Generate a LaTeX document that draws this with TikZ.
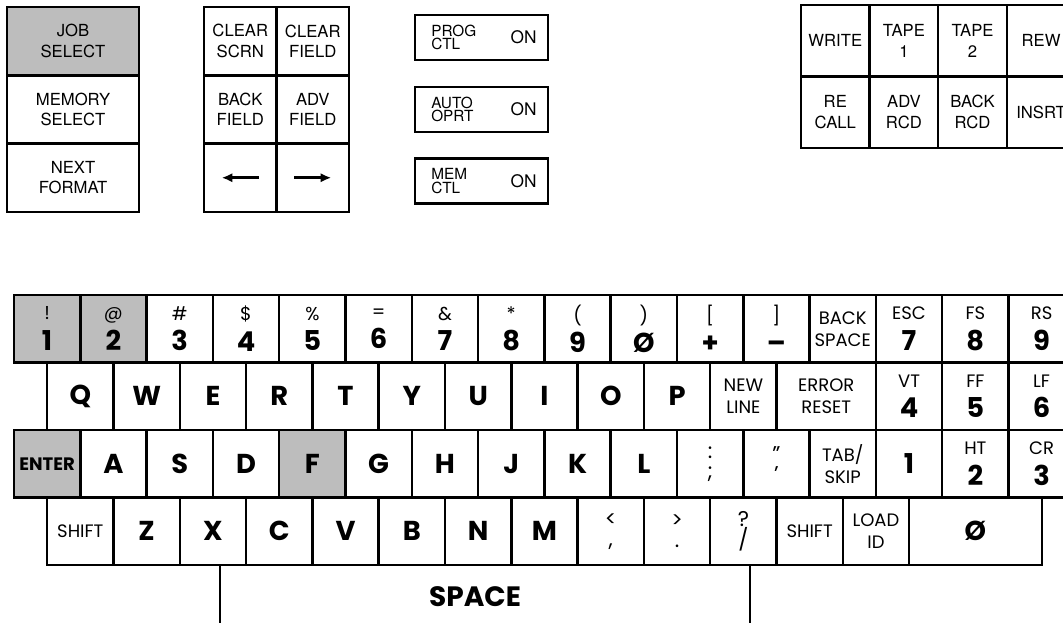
\documentclass[tikz,border=0pt]{standalone}
\usepackage{fontspec}
\setmainfont{TeX Gyre Heros}
\newfontfamily\keyfont{Poppins}
\usetikzlibrary{arrows.meta}

\tikzset{
  keyline/.style={line width=1.8pt},
  keybox/.style={draw, keyline, anchor=north west, inner sep=0pt, outer sep=0pt, align=center},
  panel/.style={keybox, font=\fontsize{12.5}{15.5}\selectfont},
  dotfill/.style={fill=black!26},
  nofill/.style={},
  keycap/.style={keybox, minimum width=49.7pt, minimum height=50.6pt},
  lettkey/.style={keycap, font=\keyfont\bfseries\fontsize{20.5}{23}\selectfont},
  wordkey/.style={keycap, font=\keyfont\fontsize{13.5}{16.5}\selectfont},
  punctkey/.style={keycap, font=\keyfont\fontsize{16}{15}\selectfont},
  arr/.style={line width=2pt, -{Latex[length=8pt,width=7pt]}},
}

\begin{document}
\begin{tikzpicture}[x=0.75pt,y=-0.75pt]
  \useasboundingbox (0,0) rectangle (1063,622);

  % top left panels
  \foreach \fil/\lab [count=\i from 0] in {dotfill/{JOB\\SELECT}, nofill/{MEMORY\\SELECT}, nofill/{NEXT\\FORMAT}}
    \node[panel, \fil, minimum width=99pt, minimum height=51.2pt] (mode\i) at (7,7+\i*68.3) {\lab};

  \tikzset{cell/.style={panel, minimum width=54.4pt, minimum height=51.2pt}}
  \node[cell] (clrscrn) at (204,7) {CLEAR\\SCRN};
  \node[cell] (clrfld) at (276.5,7) {CLEAR\\FIELD};
  \node[cell] (backfld) at (204,75.3) {BACK\\FIELD};
  \node[cell] (advfld) at (276.5,75.3) {ADV\\FIELD};
  \node[cell] (leftkey) at (204,143.6) {};
  \node[cell] (rightkey) at (276.5,143.6) {};
  \draw[arr] ([xshift=13.9pt]leftkey.center) -- ([xshift=-13.9pt]leftkey.center);
  \draw[arr] ([xshift=-13.9pt]rightkey.center) -- ([xshift=13.9pt]rightkey.center);

  % switches
  \foreach \lab [count=\i from 0] in {{PROG\\CTL}, {AUTO\\OPRT}, {MEM\\CTL}} {
    \node[keybox, minimum width=99.75pt, minimum height=33.75pt] (sw\i) at (415,15+\i*71.75) {};
    \node[anchor=west, inner sep=0pt, align=left, font=\fontsize{11.5}{10}\selectfont] (swl\i) at ([xshift=12pt]sw\i.west) {\lab};
    \node[anchor=east, inner sep=0pt, font=\fontsize{13}{13}\selectfont] (swon\i) at ([xshift=-8.3pt]sw\i.east) {ON};
  }

  % tape panel
  \tikzset{tapekey/.style={panel, minimum width=51.45pt, minimum height=53.6pt}}
  \foreach \lab [count=\i from 0] in {WRITE, {TAPE\\1}, {TAPE\\2}, REW}
    \node[tapekey] (tp\i) at (801+\i*68.6,5) {\lab};
  \foreach \lab [count=\i from 0] in {{RE\\CALL}, {ADV\\RCD}, {BACK\\RCD}, INSRT}
    \node[tapekey] (tr\i) at (801+\i*68.6,76.5) {\lab};

  % keyboard, row 1
  \foreach \fil/\sym/\dig [count=\i from 0] in {dotfill/{!}/1, dotfill/{@}/2, nofill/{\#}/3, nofill/{\$}/4, nofill/{\%}/5, nofill/{=}/6, nofill/{\&}/7, nofill/{*}/8, nofill/{(}/9, nofill/{)}/Ø, nofill/{[}/+, nofill/{]}/–}
    \node[lettkey, \fil] (r1-\i) at (14+\i*66.3,295) {{\mdseries\fontsize{14}{14}\selectfont \sym}\\\dig};
  \node[wordkey] (r1-12) at (14+12*66.3,295) {BACK\\SPACE};
  \foreach \lab/\dig [count=\i from 13] in {ESC/7, FS/8, RS/9}
    \node[lettkey] (r1-\i) at (14+\i*66.3,295) {{\mdseries\fontsize{13.5}{13.5}\selectfont \lab}\\\dig};

  % row 2
  \foreach \c [count=\i from 0] in {Q,W,E,R,T,Y,U,I,O,P}
    \node[lettkey] (r2-\i) at (47.2+\i*66.3,362.5) {\c};
  \node[wordkey] (r2-10) at (47.2+10*66.3,362.5) {NEW\\LINE};
  \node[wordkey, minimum width=74.6pt] (r2-11) at (47.2+11*66.3,362.5) {ERROR\\RESET};
  \foreach \lab/\dig [count=\i from 13] in {VT/4, FF/5, LF/6}
    \node[lettkey] (r2-\i) at (14+\i*66.3,362.5) {{\mdseries\fontsize{13.5}{13.5}\selectfont \lab}\\\dig};

  % row 3
  \node[lettkey, dotfill, font=\keyfont\bfseries\fontsize{13.5}{13.5}\selectfont] (r3-0) at (14,430) {ENTER};
  \foreach \fil/\c [count=\i from 1] in {nofill/A, nofill/S, nofill/D, dotfill/F, nofill/G, nofill/H, nofill/J, nofill/K, nofill/L}
    \node[lettkey, \fil] (r3-\i) at (14+\i*66.3,430) {\c};
  \node[punctkey] (r3-10) at (14+10*66.3,430) {:\\;};
  \node[punctkey] (r3-11) at (14+11*66.3,430) {”\\’};
  \node[wordkey] (r3-12) at (14+12*66.3,430) {TAB/\\SKIP};
  \node[lettkey] (r3-13) at (14+13*66.3,430) {1};
  \foreach \lab/\dig [count=\i from 14] in {HT/2, CR/3}
    \node[lettkey] (r3-\i) at (14+\i*66.3,430) {{\mdseries\fontsize{13.5}{13.5}\selectfont \lab}\\\dig};

  % row 4
  \node[wordkey] (r4-0) at (47.2,497.5) {SHIFT};
  \foreach \c [count=\i from 1] in {Z,X,C,V,B,N,M}
    \node[lettkey] (r4-\i) at (47.2+\i*66.3,497.5) {\c};
  \node[punctkey] (r4-8) at (47.2+8*66.3,497.5) {<\\,};
  \node[punctkey] (r4-9) at (47.2+9*66.3,497.5) {>\\.};
  \node[punctkey] (r4-10) at (47.2+10*66.3,497.5) {?\\/};
  \node[wordkey] (r4-11) at (47.2+11*66.3,497.5) {SHIFT};
  \node[wordkey] (r4-12) at (47.2+12*66.3,497.5) {LOAD\\ID};
  \node[lettkey, minimum width=99.45pt] (r4-13) at (47.2+13*66.3,497.5) {Ø};

  % space bar
  \node[anchor=north west, inner sep=0pt, outer sep=0pt, minimum width=397.5pt, minimum height=48pt] (space) at (220,565) {};
  \draw[keyline] (space.north west) -- (space.south west) (space.north east) -- (space.south east);
  \node[font=\keyfont\bfseries\fontsize{21}{21}\selectfont] (spacelbl) at (475,597) {SPACE};
\end{tikzpicture}
\end{document}
